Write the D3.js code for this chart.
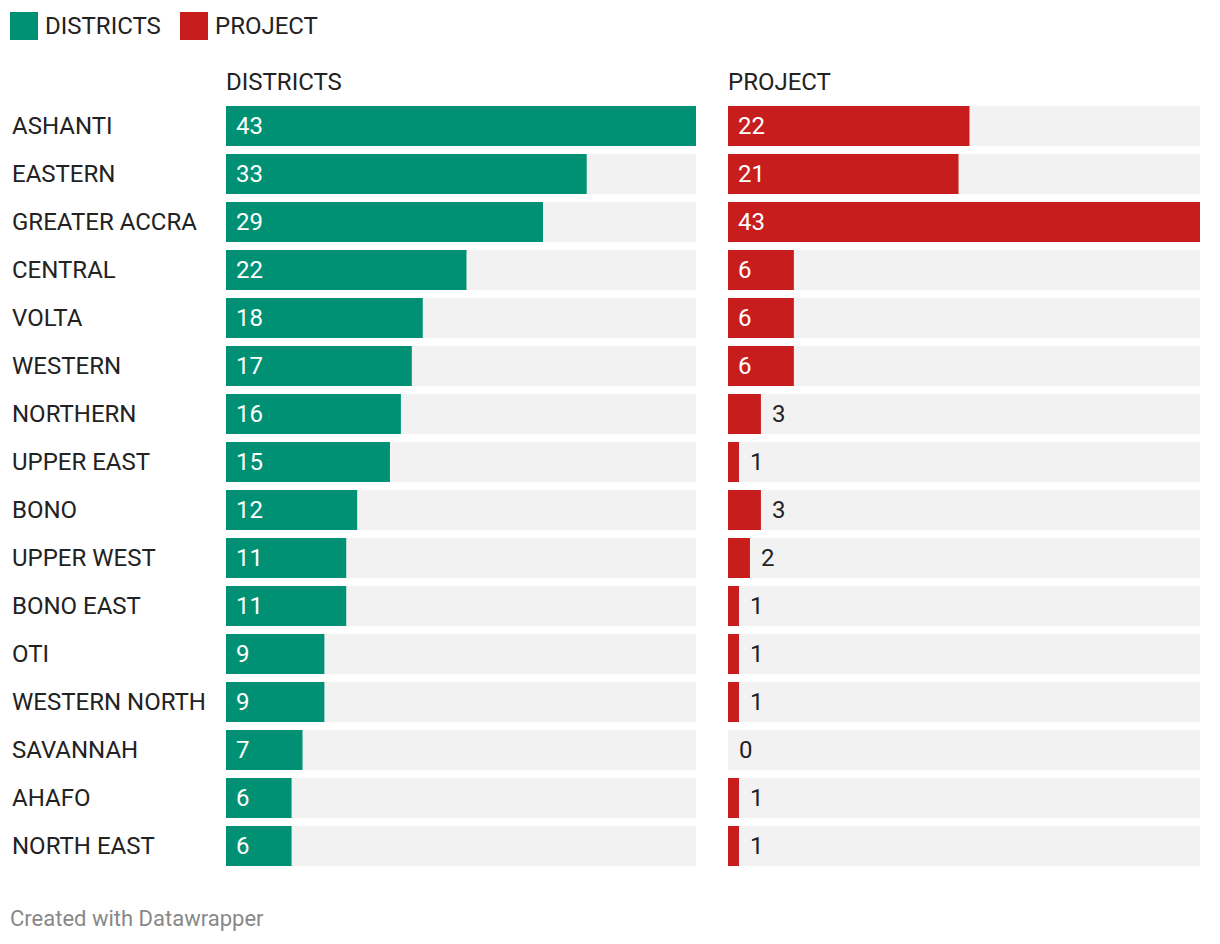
<!DOCTYPE html>
<html>
<head>
<meta charset="utf-8">
<script src="https://cdn.jsdelivr.net/npm/d3@7"></script>
<style>
  html, body { margin: 0; padding: 0; background: #fff; }
  svg text { font-family: Roboto, "Noto Sans", sans-serif; }
</style>
</head>
<body>
<svg id="chart" width="1220" height="944"></svg>
<script>
const regions = ["ASHANTI","EASTERN","GREATER ACCRA","CENTRAL","VOLTA","WESTERN","NORTHERN","UPPER EAST","BONO","UPPER WEST","BONO EAST","OTI","WESTERN NORTH","SAVANNAH","AHAFO","NORTH EAST"];
const districts = [43,33,29,22,18,17,16,15,12,11,11,9,9,7,6,6];
const project = [22,21,43,6,6,6,3,1,3,2,1,1,1,0,1,1];
const seriesNames = ["DISTRICTS","PROJECT"];
const seriesColors = ["#009175","#c71e1d"];
const footer = "Created with Datawrapper";

const svg = d3.select("#chart");
const textColor = "#222";
const fs = 24;

// legend
const legend = svg.append("g");
const legendX = [10, 180];
seriesNames.forEach((n, i) => {
  legend.append("rect").attr("x", legendX[i]).attr("y", 12).attr("width", 28).attr("height", 28).attr("fill", seriesColors[i]);
  legend.append("text").attr("x", legendX[i] + 35).attr("y", 33.5).attr("font-size", fs).attr("fill", textColor).text(n);
});

const y = d3.scaleBand().domain(regions).range([102, 870]).paddingInner(8/48).paddingOuter(4/48);

// row labels
svg.append("g").selectAll("text").data(regions).join("text")
  .attr("x", 12).attr("y", d => y(d) + y.bandwidth()/2 + 8)
  .attr("font-size", fs).attr("fill", textColor).text(d => d);

const panels = [
  {name: seriesNames[0], values: districts, color: seriesColors[0], x0: 226, x1: 696},
  {name: seriesNames[1], values: project, color: seriesColors[1], x0: 728, x1: 1200}
];
const maxV = d3.max([...districts, ...project]);

panels.forEach(p => {
  const x = d3.scaleLinear().domain([0, maxV]).range([p.x0, p.x1]);
  const g = svg.append("g");
  g.append("text").attr("x", p.x0).attr("y", 90).attr("font-size", fs).attr("fill", textColor).text(p.name);
  const rows = g.selectAll("g.row").data(regions).join("g").attr("class", "row");
  rows.append("rect").attr("x", p.x0).attr("y", d => y(d)).attr("width", p.x1 - p.x0).attr("height", y.bandwidth()).attr("fill", "#f2f2f2");
  rows.append("rect").attr("x", p.x0).attr("y", d => y(d))
    .attr("width", (d, i) => x(p.values[i]) - x(0)).attr("height", y.bandwidth()).attr("fill", p.color);
  rows.append("text")
    .attr("x", (d, i) => {
      const w = x(p.values[i]) - x(0);
      return w > 45 ? p.x0 + 10 : x(p.values[i]) + 11;
    })
    .attr("y", d => y(d) + y.bandwidth()/2 + 8)
    .attr("font-size", fs)
    .attr("fill", (d, i) => (x(p.values[i]) - x(0)) > 45 ? "#fff" : textColor)
    .text((d, i) => p.values[i]);
});

svg.append("text").attr("x", 10).attr("y", 926).attr("font-size", 22).attr("fill", "#888").text(footer);
</script>
</body>
</html>
